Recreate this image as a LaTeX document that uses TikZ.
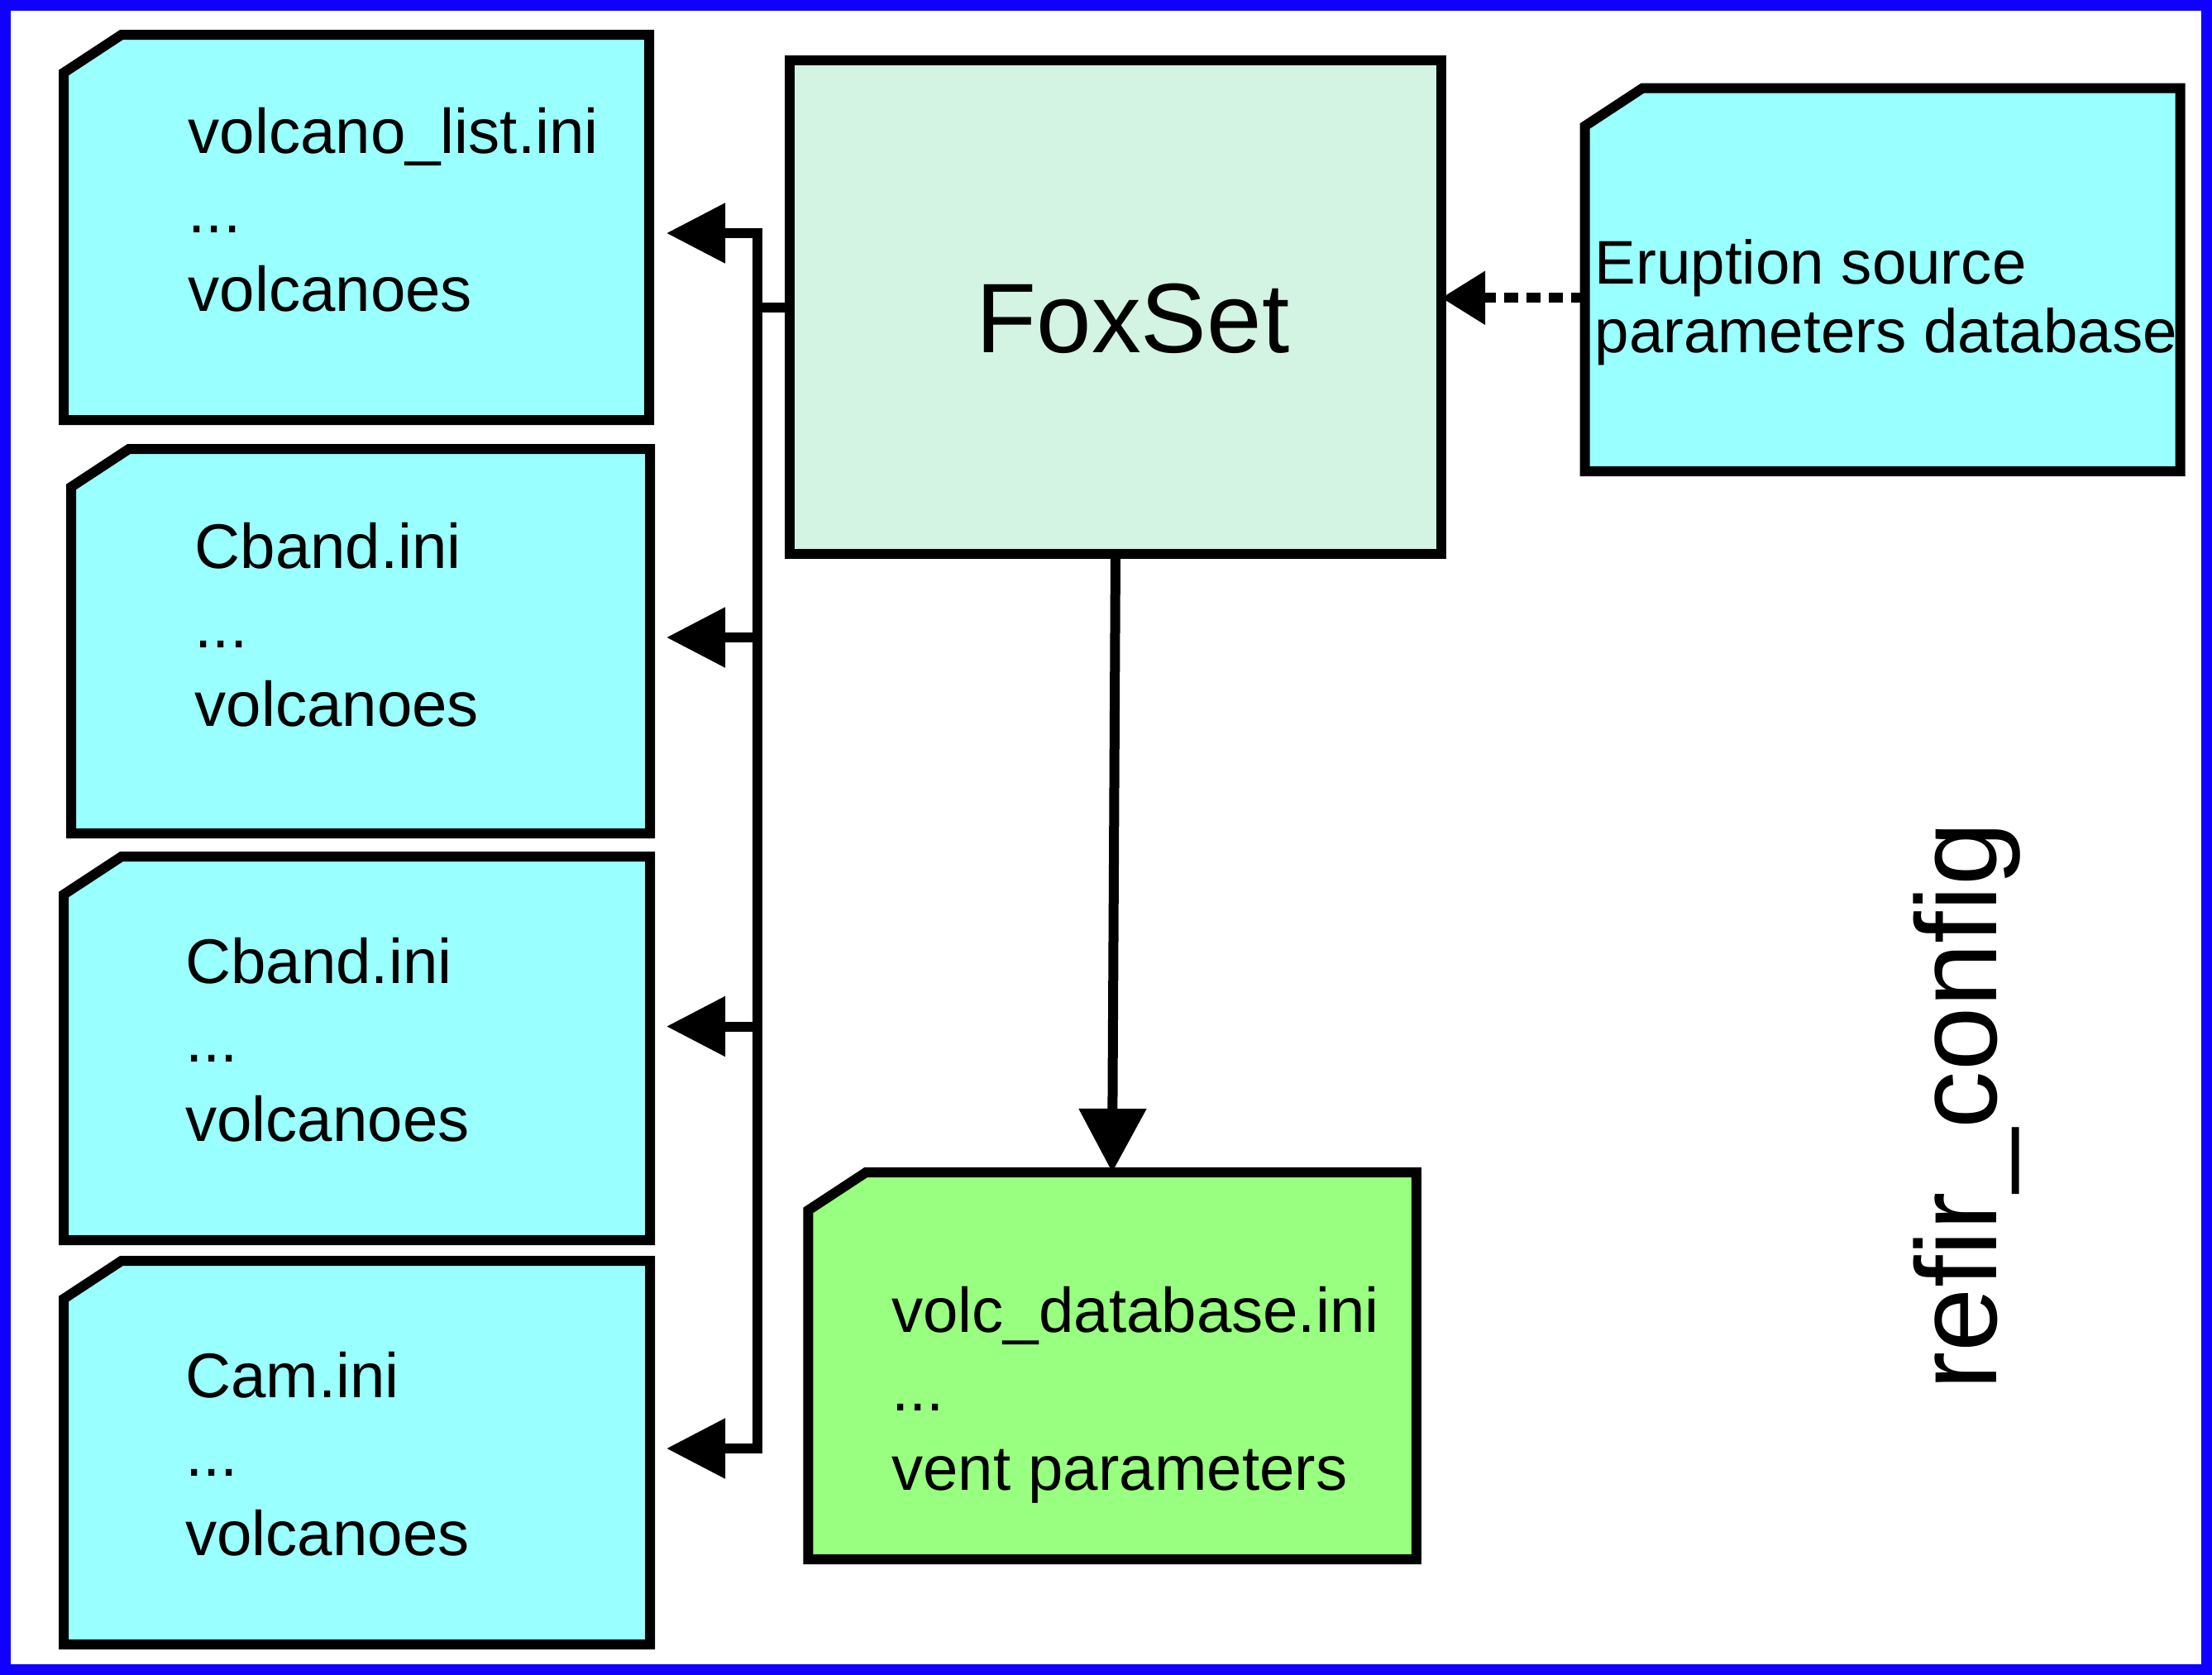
\documentclass[tikz,border=0pt]{standalone}
\usepackage{fontspec}
\setmainfont{Liberation Sans}[Ligatures=NoCommon]
\usepackage{xcolor}
\usepackage{tikz}
\usetikzlibrary{arrows.meta}

\definecolor{filecyan}{RGB}{153,255,255}
\definecolor{foxmint}{RGB}{211,243,227}
\definecolor{ventgreen}{RGB}{153,255,128}
\definecolor{frameblue}{RGB}{16,0,255}

\tikzset{
  boxline/.style={draw=black, line width=1.2mm},
  slot/.style={inner sep=0pt, outer sep=0pt},
  filetext/.style={anchor=base west, inner sep=0pt, font=\fontsize{21.7}{26}\selectfont},
  wire/.style={draw=black, line width=1.2mm},
  flow/.style={wire, -{Triangle[length=0.71cm,width=0.70cm]}},
  dotflow/.style={wire, dash pattern=on 0.17cm off 0.10cm, -{Triangle[length=0.53cm,width=0.62cm]}}
}

% file outline with the cut corner, drawn on a slot node
\newcommand{\docshape}[2]{%
  \filldraw[boxline, fill=#2] ([yshift=-0.46cm]#1.north west) -- ([xshift=0.70cm]#1.north west)
    -- (#1.north east) -- (#1.south east) -- (#1.south west) -- cycle;}

\begin{document}
\begin{tikzpicture}
\useasboundingbox (0,0) rectangle (26.75,-20.26);
\draw[draw=frameblue, line width=1.3mm] (0.065,-0.065) rectangle (26.685,-20.195);

% file boxes
\node[slot, minimum width=7.08cm, minimum height=4.66cm] (vlist) at (4.31,-2.75) {};
\node[slot, minimum width=7.00cm, minimum height=4.65cm] (cband) at (4.36,-7.755) {};
\node[slot, minimum width=7.09cm, minimum height=4.64cm] (cbandb) at (4.315,-12.68) {};
\node[slot, minimum width=7.09cm, minimum height=4.64cm] (cam) at (4.315,-17.57) {};
\node[slot, minimum width=7.20cm, minimum height=4.635cm] (erupt) at (22.765,-3.383) {};
\node[slot, minimum width=7.355cm, minimum height=4.68cm] (volcdb) at (13.45,-16.52) {};
\foreach \nm/\col in {vlist/filecyan, cband/filecyan, cbandb/filecyan, cam/filecyan, erupt/filecyan, volcdb/ventgreen}
  \docshape{\nm}{\col};

\node[slot, boxline, fill=foxmint, minimum width=7.88cm, minimum height=5.97cm] (foxset) at (13.49,-3.715) {};
\node[font=\fontsize{34}{40}\selectfont, anchor=base, inner sep=0pt] (foxlabel) at (13.70,-4.267) {FoxSet};

% texts of the files
\foreach \nm/\tx/\ty/\ta/\tb in {vlist/2.27/1.857/{volcano\_list.ini}/volcanoes,
    cband/2.35/6.875/Cband.ini/volcanoes, cbandb/2.236/11.89/Cband.ini/volcanoes,
    cam/2.236/16.90/Cam.ini/volcanoes, volcdb/10.775/16.11/{volc\_database.ini}/{vent parameters}}
{
  \node[filetext] (\nm-a) at (\tx,-\ty) {\ta};
  \node[filetext] (\nm-b) at ([yshift=-0.955cm]\nm-a.base west) {...};
  \node[filetext] (\nm-c) at ([yshift=-0.955cm]\nm-b.base west) {\tb};
}
\node[filetext, font=\fontsize{21.2}{25}\selectfont] (erupt-a) at (19.28,-3.43) {Eruption source};
\node[filetext, font=\fontsize{21.2}{25}\selectfont] (erupt-b) at ([yshift=-0.836cm]erupt-a.base west) {parameters database};

\node[font=\fontsize{39.5}{46}\selectfont, rotate=90, anchor=base west, inner sep=0pt] (refir) at (24.14,-16.82) {refir\_config};

% bus to the file boxes
\coordinate (b1) at (9.16,-2.82);
\coordinate (b2) at (9.16,-7.71);
\coordinate (b3) at (9.16,-12.415);
\coordinate (b4) at (9.16,-17.52);
\draw[wire, line cap=rect] (b1) -- (b4);
\draw[wire] (foxset.west) -- (foxset.west -| b1);
\foreach \b in {b1,b2,b3,b4}
  \draw[flow] (\b) -- ++(-1.10,0);

\draw[wire, -{Triangle[length=0.77cm,width=0.79cm]}] (foxset.south) -- (volcdb.north);

\coordinate (esrc) at ([yshift=-0.22cm]erupt.west);
\draw[dotflow] (esrc) -- (esrc -| foxset.east);
\end{tikzpicture}
\end{document}
